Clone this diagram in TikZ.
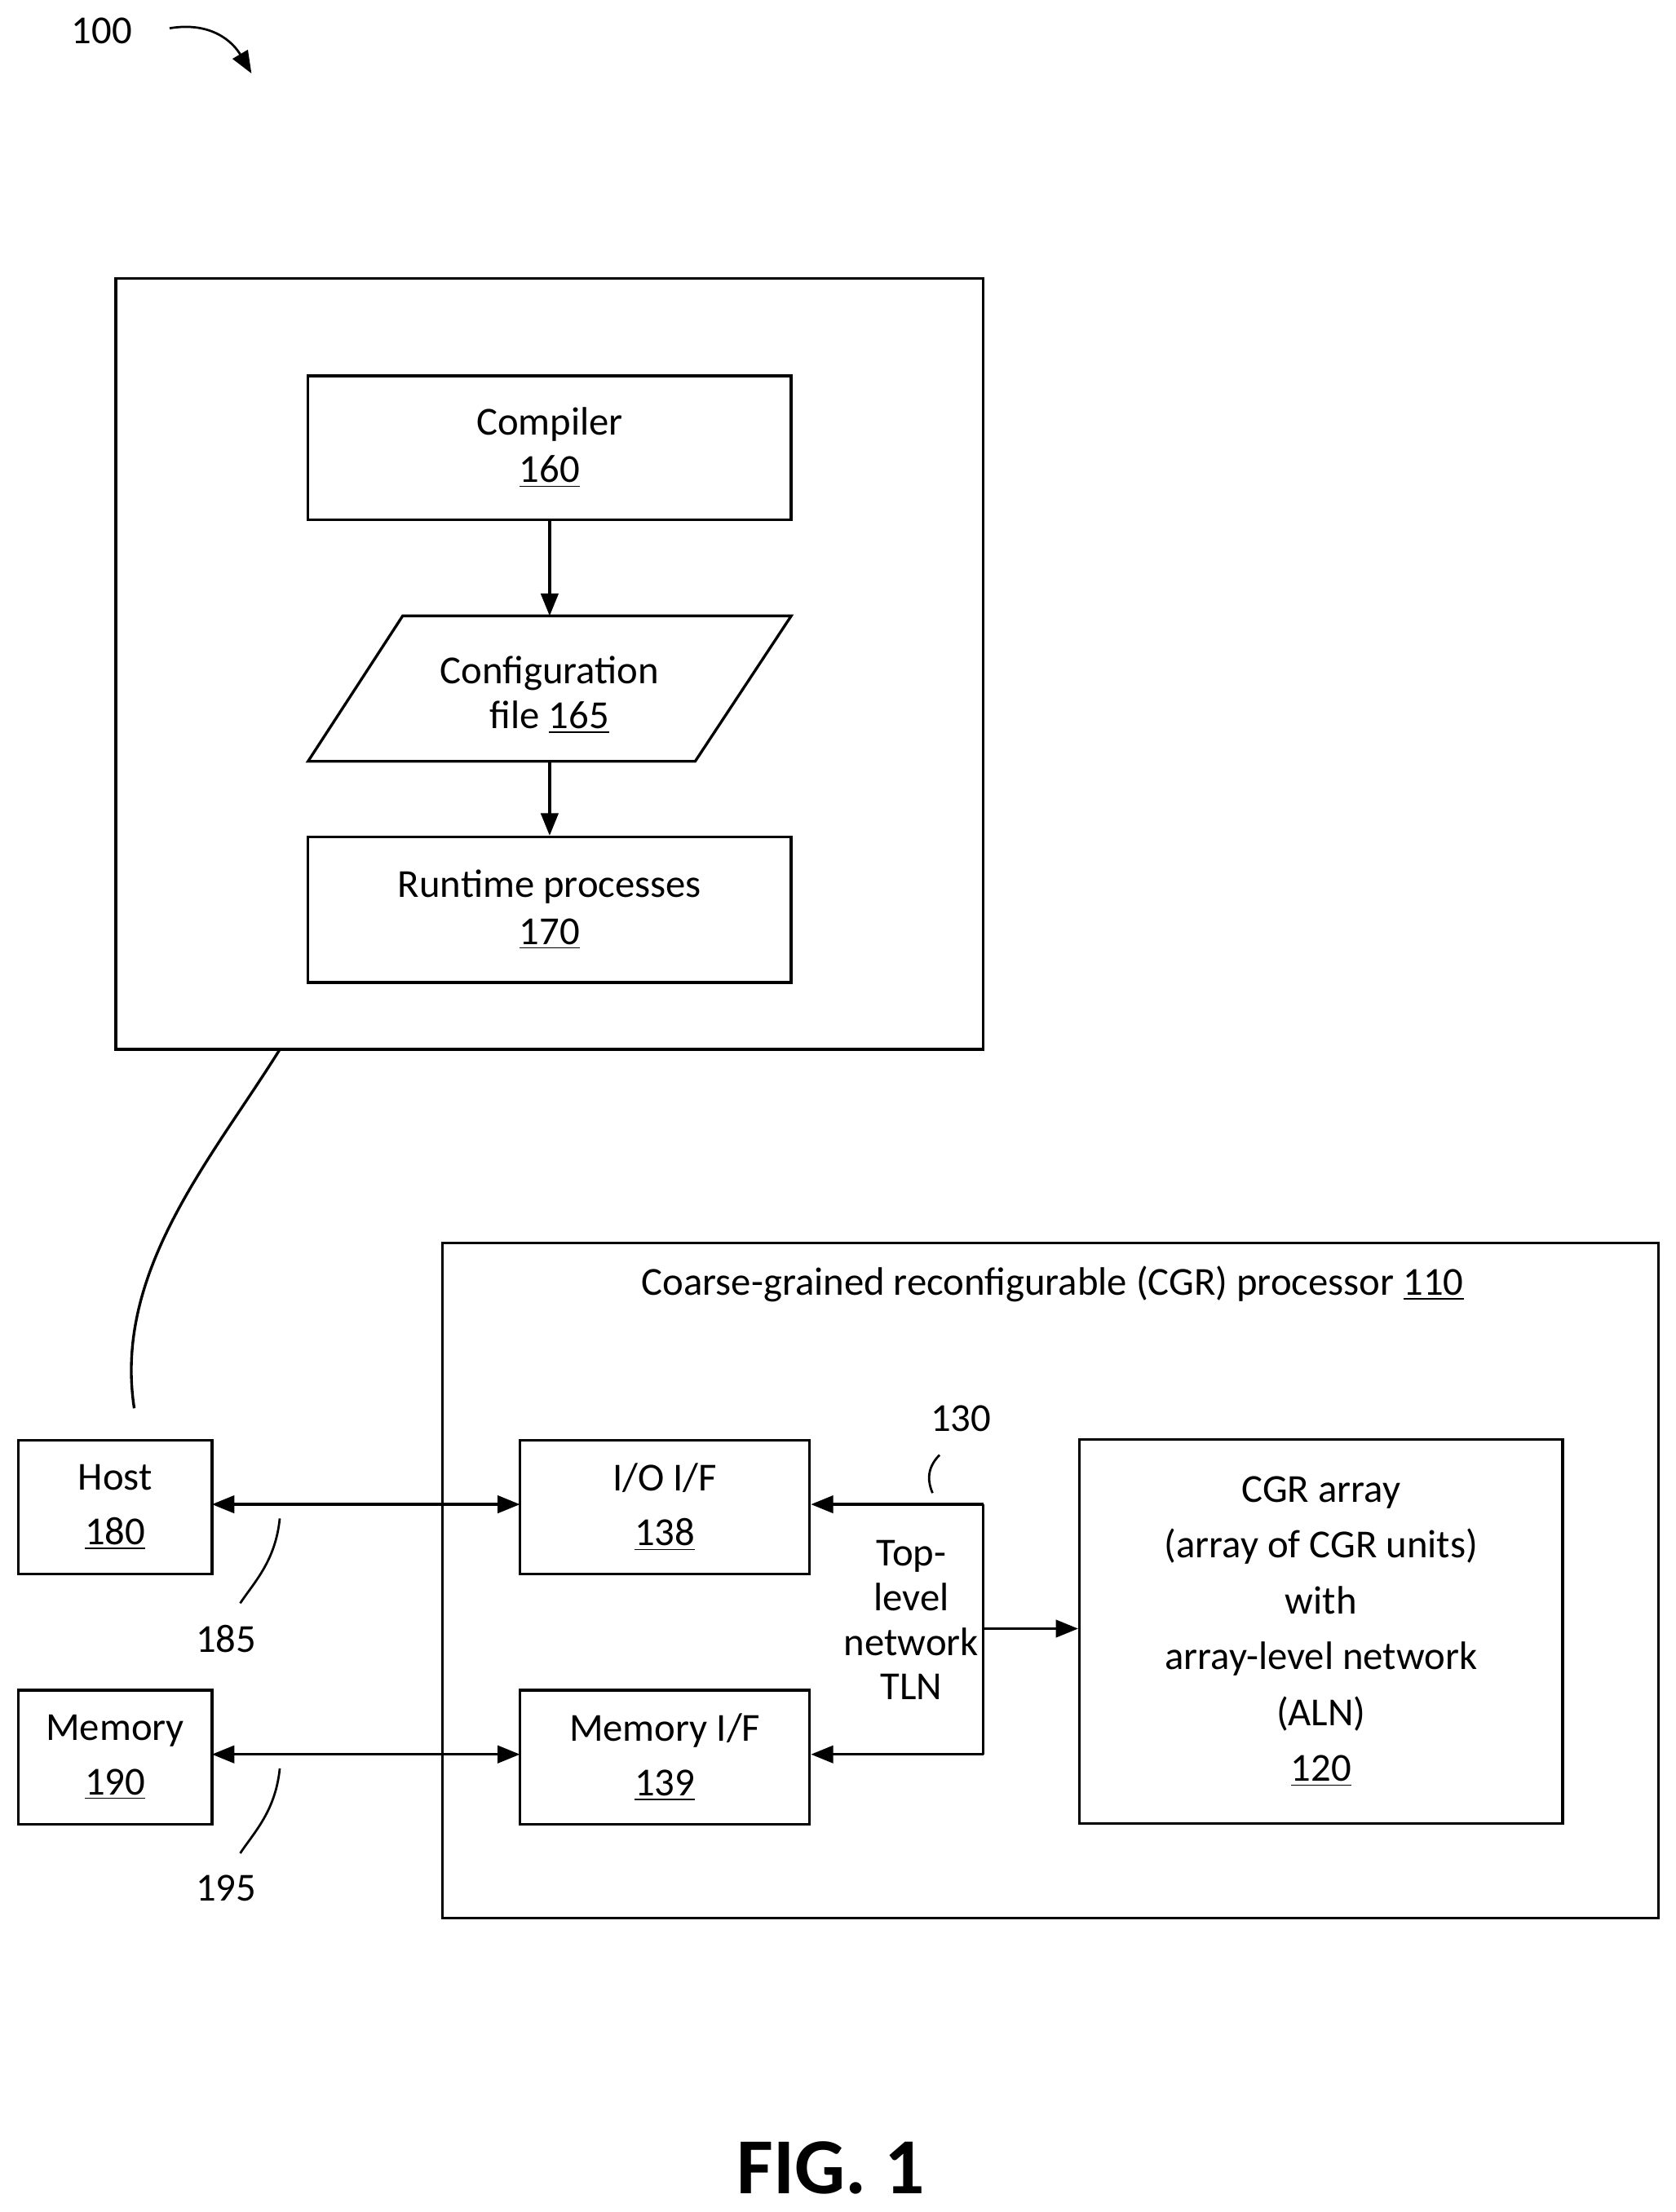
\documentclass[tikz,border=0pt]{standalone}
\usepackage{fontspec}
\setmainfont{Carlito}
\usetikzlibrary{arrows.meta, positioning, calc}
\newcommand{\un}[1]{\underline{#1}}

\begin{document}
\begin{tikzpicture}[x=0.02cm, y=-0.02cm, line width=1.1pt,
    box/.style={rectangle, draw, align=center, font=\fontsize{16}{19}\selectfont},
    lbl/.style={font=\fontsize{16}{18}\selectfont},
    arr/.style={-{Triangle[length=9pt, width=7pt]}},
    darr/.style={{Triangle[length=9pt, width=7pt]}-{Triangle[length=9pt, width=7pt]}}]
    \useasboundingbox (0,0) rectangle (1186,1566);

    % Reference label
    \node[lbl] (ref) at (72,22) {100};
    \draw[arr, line width=0.9pt] (120,20) .. controls (150,15) and (165,30) .. (178,52);

    % Host side software
    \node[box, minimum width=12.28cm, minimum height=10.92cm] (sw) at (389,470) {};
    \node[box, minimum width=6.84cm, minimum height=2.04cm] (comp) at (389,317) {Compiler\\\un{160}};
    \node[lbl, align=center, minimum height=2.06cm] (cfg) at (389,492) {Configuration\\file \un{165}};
    \draw (285,436) -- (560,436) -- (492,539) -- (218,539) -- cycle;
    \node[box, minimum width=6.84cm, minimum height=2.06cm] (rt) at (389,644) {Runtime processes\\\un{170}};
    \draw[arr] (comp) -- (comp |- 436,436);
    \draw[arr] (comp |- 539,539) -- (rt);

    % CGR processor
    \node[box, minimum width=17.22cm, minimum height=9.56cm] (cgr) at (743.5,1119) {};
    \node[lbl] (cgrt) at (745,909) {Coarse-grained reconfigurable (CGR) processor \un{110}};
    \node[box, font=\fontsize{16}{22}\selectfont, minimum width=2.74cm, minimum height=1.9cm] (host) at (81.5,1067) {Host\\\un{180}};
    \node[box, font=\fontsize{16}{22}\selectfont, minimum width=2.74cm, minimum height=1.9cm] (mem) at (81.5,1244) {Memory\\\un{190}};
    \node[box, font=\fontsize{16}{22}\selectfont, minimum width=4.1cm, minimum height=1.9cm] (io) at (470.5,1067) {I/O I/F\\\un{138}};
    \node[box, font=\fontsize{16}{22}\selectfont, minimum width=4.1cm, minimum height=1.9cm] (mif) at (470.5,1244) {Memory I/F\\\un{139}};
    \node[box, font=\fontsize{16}{22.5}\selectfont, minimum width=6.84cm, minimum height=5.44cm] (arr) at (935,1155)
        {CGR array\\(array of CGR units)\\with\\array-level network\\(ALN)\\\un{120}};
    \node[lbl, align=center] (tln) at (645,1147) {Top-\\level\\network\\TLN};

    % Connections
    \draw (198,743) .. controls (150,820) and (80,900) .. (95,997);
    \draw[darr] (150,1065) -- (368,1065);
    \draw[darr] (150,1242) -- (368,1242);
    \coordinate (t1) at (696,1065);
    \coordinate (t2) at (696,1242);
    \coordinate (t3) at (696,1153);
    \draw[arr] (t1) -- (io.east |- t1);
    \draw[arr] (t2) -- (mif.east |- t2);
    \draw (t1) -- (t2);
    \draw[arr] (t3) -- (arr.west |- t3);

    % Callouts
    \node[lbl] (n130) at (680,1004) {130};
    \draw[line width=0.9pt] (665,1030) .. controls (655,1040) and (657,1050) .. (660,1057);
    \node[lbl] (n185) at (160,1160) {185};
    \draw[line width=0.9pt] (198,1075) .. controls (195,1105) and (180,1120) .. (170,1135);
    \node[lbl] (n195) at (160,1337) {195};
    \draw[line width=0.9pt] (198,1252) .. controls (195,1282) and (180,1297) .. (170,1312);

    \node[font=\fontsize{32}{36}\selectfont\bfseries] (fig) at (588,1535) {FIG. 1};
\end{tikzpicture}
\end{document}
